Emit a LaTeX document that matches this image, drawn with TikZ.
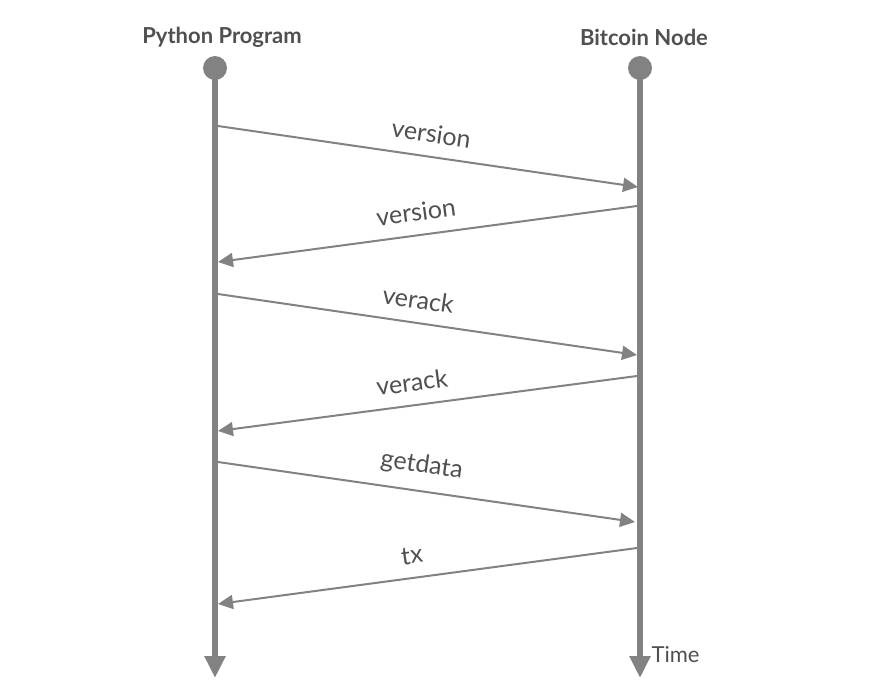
\documentclass[tikz,border=0pt]{standalone}
\usepackage{fontspec}
\setmainfont{Lato}
\usetikzlibrary{arrows.meta}
\definecolor{linegray}{HTML}{828282}
\definecolor{textgray}{HTML}{505050}

\tikzset{
    lifeline/.style={linegray, line width=6pt, -{Triangle[width=20pt, length=22pt]}},
    msg/.style={linegray, line width=2pt, -{Triangle[width=14pt, length=15pt]}},
    msglabel/.style={textgray, font=\fontsize{25}{27}\selectfont, above=9pt, sloped, inner sep=4pt},
    actor/.style={textgray, font=\bfseries\fontsize{22}{24}\selectfont}
}

\begin{document}
\begin{tikzpicture}[x=1pt, y=-1pt]
    \useasboundingbox (0, 0) rectangle (880, 699);
    % actors
    \node [actor] (python) at (222, 37) {Python Program};
    \node [actor] (bitcoin) at (644, 37) {Bitcoin Node};
    \coordinate (ptop) at (215, 68);
    \coordinate (pend) at (215, 678);
    \coordinate (btop) at (640, 68);
    \coordinate (bend) at (640, 678);
    \draw [lifeline] (ptop) -- (pend);
    \draw [lifeline] (btop) -- (bend);
    \fill [linegray] (ptop) circle (12);
    \fill [linegray] (btop) circle (12);
    \node [textgray, font=\fontsize{22}{24}\selectfont, anchor=west] (time) at (648, 655) {Time};
    % message points
    \coordinate (p1) at (218, 126);  \coordinate (b1) at (638, 187);
    \coordinate (b2) at (637, 206);  \coordinate (p2) at (218, 262);
    \coordinate (p3) at (218, 294);  \coordinate (b3) at (637, 355);
    \coordinate (b4) at (637, 376);  \coordinate (p4) at (218, 431);
    \coordinate (p5) at (218, 462);  \coordinate (b5) at (635, 522);
    \coordinate (b6) at (637, 548);  \coordinate (p6) at (218, 604);
    % messages
    \draw [msg] (p1) -- node [msglabel] {version} (b1);
    \draw [msg] (b2) -- node [msglabel, pos=0.52] {version} (p2);
    \draw [msg] (p3) -- node [msglabel, pos=0.47] {verack} (b3);
    \draw [msg] (b4) -- node [msglabel, pos=0.53] {verack} (p4);
    \draw [msg] (p5) -- node [msglabel, pos=0.48] {getdata} (b5);
    \draw [msg] (b6) -- node [msglabel, pos=0.53] {tx} (p6);
\end{tikzpicture}
\end{document}
